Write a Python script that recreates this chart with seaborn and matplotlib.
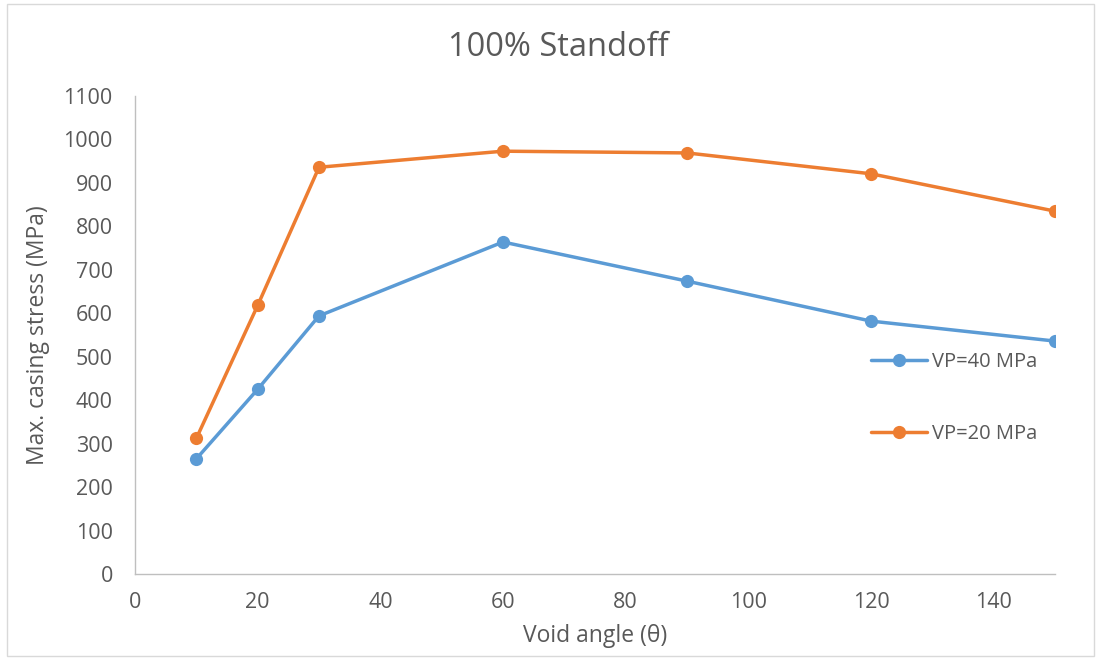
import matplotlib
matplotlib.use("Agg")
import matplotlib.pyplot as plt
from matplotlib.patches import Rectangle
import pandas as pd
import seaborn as sns

# Void angle (degrees) and maximum casing stress (MPa) for each pore pressure
void_angle = [10, 20, 30, 60, 90, 120, 150]
stress_vp40 = [265, 425, 594, 764, 674, 582, 536]
stress_vp20 = [312, 618, 936, 973, 969, 921, 835]
series_names = ["VP=40 MPa", "VP=20 MPa"]
series_colors = ["#5B9BD5", "#ED7D31"]

x_ticks = list(range(0, 141, 20))
y_ticks = list(range(0, 1101, 100))

df = pd.concat([
    pd.DataFrame({"angle": void_angle, "stress": stress_vp40, "case": series_names[0]}),
    pd.DataFrame({"angle": void_angle, "stress": stress_vp20, "case": series_names[1]}),
])

sns.set_theme(style="white")
plt.rcParams["font.family"] = ["Open Sans", "DejaVu Sans"]

fig = plt.figure(figsize=(11.01, 6.6), dpi=100)
ax = fig.add_axes([135 / 1101, 1 - 574 / 660, (1055 - 135) / 1101, (574 - 96) / 660])

sns.lineplot(
    data=df, x="angle", y="stress", hue="case", hue_order=series_names,
    palette=series_colors, marker="o", markersize=9.5, markeredgewidth=0,
    linewidth=2.5, ax=ax, legend=True,
)

ax.set_xlim(0, 150)
ax.set_ylim(0, 1100)
ax.set_xticks(x_ticks)
ax.set_yticks(y_ticks)
ax.tick_params(axis="both", length=0, labelsize=15.5, colors="#595959")
ax.tick_params(axis="y", pad=16)
ax.tick_params(axis="x", pad=13)
for side in ("top", "right"):
    ax.spines[side].set_visible(False)
for side in ("left", "bottom"):
    ax.spines[side].set_color("#BFBFBF")
    ax.spines[side].set_linewidth(1.0)
ax.grid(False)

ax.set_xlabel("Void angle (θ)", fontsize=16.5, color="#595959", labelpad=8)
ax.set_ylabel("Max. casing stress (MPa)", fontsize=16.5, color="#595959", labelpad=10)
fig.text(0.5068, 1 - 48 / 660, "100% Standoff", ha="center", va="center",
         fontsize=23.5, color="#595959")

leg = ax.legend(
    loc="center left", bbox_to_anchor=(853 / 1101, 1 - 398 / 660),
    bbox_transform=fig.transFigure, frameon=False, fontsize=14.5,
    labelspacing=2.55, handlelength=2.75, handletextpad=0.25,
)
for text in leg.get_texts():
    text.set_color("#595959")

# thin chart-area border
fig.patches.append(Rectangle((7 / 1101, 4 / 660), 1 - 14 / 1101, 1 - 8 / 660,
                             transform=fig.transFigure, fill=False,
                             edgecolor="#D9D9D9", linewidth=1.0))

fig.savefig("out.png", dpi=100)
